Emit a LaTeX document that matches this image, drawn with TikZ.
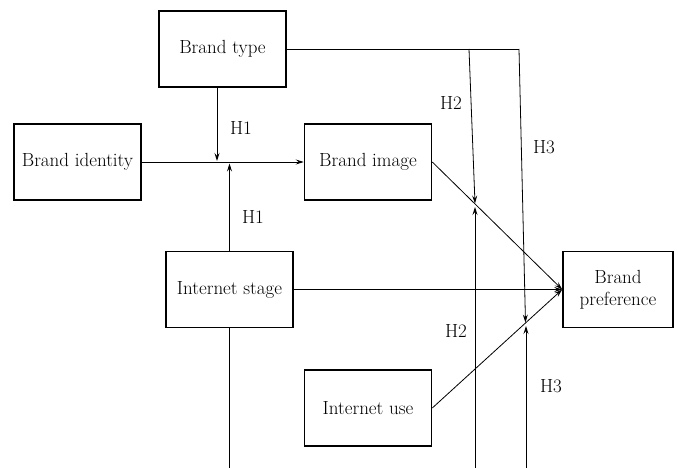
\documentclass[tikz,border=0pt]{standalone}
\usepackage{fontspec}
\usetikzlibrary{arrows.meta}
\begin{document}
\begin{tikzpicture}[x=1pt,y=-1pt,
  box/.style={draw, line width=1.6pt, minimum width=127pt, minimum height=76pt, inner sep=0pt,
    font=\fontsize{19}{22}\selectfont, align=center},
  conn/.style={line width=0.8pt},
  arr/.style={conn, -{Stealth[length=8pt,width=5pt,inset=3pt]}},
  lab/.style={font=\fontsize{19}{22}\selectfont, inner sep=0pt}]
\useasboundingbox (0,0) rectangle (678,468);

\node[box] (bt)  at (222.5,49) {Brand type};
\node[box] (bid) at (77.5,162) {Brand identity};
\node[box] (bim) at (368,162) {Brand image};
\node[box] (is)  at (229.5,289.5) {Internet stage};
\node[box] (iu)  at (368,408) {Internet use};
\node[box, minimum width=110pt] (bp) at (618,289.5) {Brand\\preference};

\coordinate (t1) at (217,87);
\coordinate (h1a) at (217,161);
\coordinate (h1b) at (229.5,163.5);
\coordinate (isend) at (229.5,468);
\coordinate (k2) at (469,49);
\coordinate (k3) at (519,49);
\coordinate (x2t) at (475,203.5);
\coordinate (x2b) at (475,207);
\coordinate (x3t) at (525.5,322.5);
\coordinate (x3b) at (526,326);
\coordinate (b2) at (475,468);
\coordinate (b3) at (526,468);

% H1 moderators
\draw[arr] (t1) -- (h1a);
\draw[arr] (is.north) -- (h1b);
\draw[conn] (is.south) -- (isend);
\draw[arr] (bid.east) -- (bim.west);

% brand type lines
\draw[conn] (bt.east) -- (k3);
\draw[arr] (k2) -- (x2t);
\draw[arr] (k3) -- (x3t);
\draw[arr] (b2) -- (x2b);
\draw[arr] (b3) -- (x3b);

% into brand preference
\draw[arr] (bim.east) -- (bp.west);
\draw[arr] (is.east) -- (bp.west);
\draw[arr] (iu.east) -- (bp.west);

% labels
\node[lab] (l1) at (241,128) {H1};
\node[lab] (l2) at (253,217) {H1};
\node[lab] (l3) at (451,103) {H2};
\node[lab] (l4) at (544,147) {H3};
\node[lab] (l5) at (456,331) {H2};
\node[lab] (l6) at (551,386) {H3};
\end{tikzpicture}
\end{document}
